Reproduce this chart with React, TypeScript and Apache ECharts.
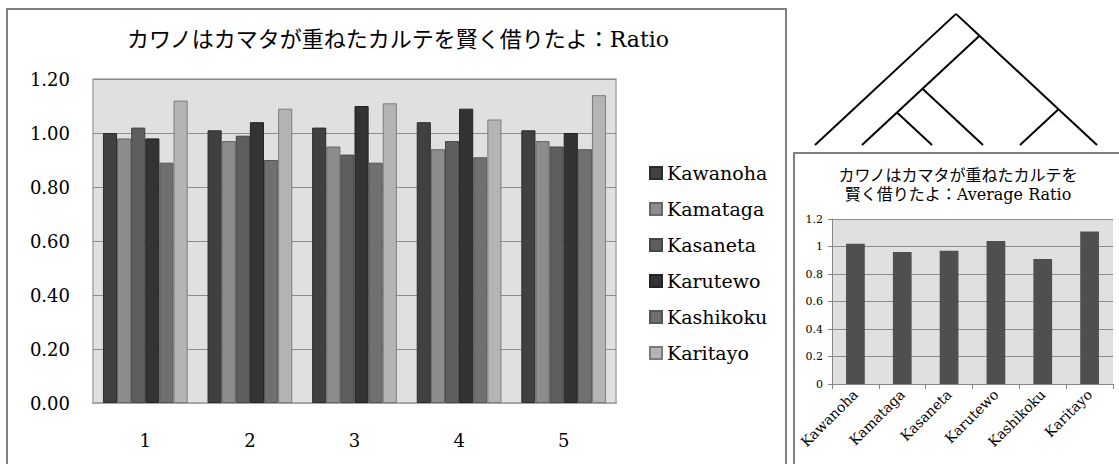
import React, { useEffect, useRef } from "react";
import * as echarts from "echarts";

// Category labels of the main chart (rounds 1..5)
const rounds = ["1", "2", "3", "4", "5"];

// Series names
const seriesNames = ["Kawanoha", "Kamataga", "Kasaneta", "Karutewo", "Kashikoku", "Karitayo"];

// Ratio per round for each series
const kawanoha = [1.0, 1.01, 1.02, 1.04, 1.01];
const kamataga = [0.98, 0.97, 0.95, 0.94, 0.97];
const kasaneta = [1.02, 0.99, 0.92, 0.97, 0.95];
const karutewo = [0.98, 1.04, 1.1, 1.09, 1.0];
const kashikoku = [0.89, 0.9, 0.89, 0.91, 0.94];
const karitayo = [1.12, 1.09, 1.11, 1.05, 1.14];

// Average ratio per series (small chart)
const averageRatio = [1.02, 0.96, 0.97, 1.04, 0.91, 1.11];

// Y axis tick range
const yMin = 0;
const yMax = 1.2;
const yStep = 0.2;

// Cladogram: leaf order and nesting of the six series
const treeTopology: any = [0, [[[1, 2], 3], [4, 5]]];

const SERIF = "DejaVu Serif, Noto Sans CJK JP";

const barFill = ["#404040", "#8c8c8c", "#5e5e5e", "#333333", "#707070", "#b4b4b4"];
const barEdge = ["#2c2c2c", "#666666", "#454545", "#222222", "#555555", "#7c7c7c"];

// Lays out the cladogram with slanted edges and returns line graphics
function buildTree(): any[] {
  const leafX = [815, 862, 932, 983, 1020, 1097];
  const leafY = 145;
  const slope = 0.93;
  const lines: any[] = [];
  type P = { x: number; y: number; lo: number; hi: number };
  const place = (node: any): P => {
    if (typeof node === "number") {
      const x = leafX[node];
      return { x, y: leafY, lo: x, hi: x };
    }
    const kids = node.map(place);
    const lo = Math.min(...kids.map((k: P) => k.lo));
    const hi = Math.max(...kids.map((k: P) => k.hi));
    const p = { x: (lo + hi) / 2, y: leafY - ((hi - lo) / 2) * slope, lo, hi };
    kids.forEach((k: P) => {
      lines.push({
        type: "line",
        shape: { x1: p.x, y1: p.y, x2: k.x, y2: k.y },
        style: { stroke: "#000", lineWidth: 2 },
        silent: true,
      });
    });
    return p;
  };
  place(treeTopology);
  return lines;
}

export default function App() {
  const ref = useRef<HTMLDivElement>(null);

  useEffect(() => {
    if (!ref.current) return;
    const chart = echarts.init(ref.current, undefined, { renderer: "svg" });
    const seriesValues = [kawanoha, kamataga, kasaneta, karutewo, kashikoku, karitayo];

    const option: any = {
      animation: false,
      backgroundColor: "#ffffff",
      textStyle: { fontFamily: SERIF },
      title: [
        {
          text: "カワノはカマタが重ねたカルテを賢く借りたよ：Ratio",
          left: 398,
          top: 28,
          padding: 0,
          textAlign: "center",
          textStyle: { fontFamily: SERIF, fontSize: 22, fontWeight: "normal", color: "#000" },
        },
        {
          text: "カワノはカマタが重ねたカルテを\n賢く借りたよ：Average Ratio",
          left: 958,
          top: 166,
          padding: 0,
          textAlign: "center",
          textStyle: {
            fontFamily: SERIF,
            fontSize: 16,
            lineHeight: 19,
            fontWeight: "normal",
            color: "#000",
          },
        },
      ],
      legend: {
        data: seriesNames,
        orient: "vertical",
        left: 649,
        top: 163,
        padding: 0,
        itemWidth: 12,
        itemHeight: 12,
        itemGap: 16,
        icon: "rect",
        textStyle: { fontFamily: SERIF, fontSize: 19, lineHeight: 20, color: "#000" },
      },
      grid: [
        {
          left: 93,
          top: 79,
          width: 523,
          height: 324,
          show: true,
          backgroundColor: "#e0e0e0",
          borderColor: "#a6a6a6",
          borderWidth: 1.5,
        },
        {
          left: 832,
          top: 219,
          width: 281,
          height: 165,
          show: true,
          backgroundColor: "#e0e0e0",
          borderWidth: 0,
        },
      ],
      xAxis: [
        {
          type: "category",
          gridIndex: 0,
          data: rounds,
          axisLine: { show: true, lineStyle: { color: "#a6a6a6", width: 2 } },
          axisTick: { show: false },
          axisLabel: { fontFamily: SERIF, fontSize: 18, color: "#000", margin: 28 },
        },
        {
          type: "category",
          gridIndex: 1,
          data: seriesNames,
          axisLine: { show: true, lineStyle: { color: "#868686", width: 1 } },
          axisTick: { show: true, length: 5, lineStyle: { color: "#868686" } },
          axisLabel: {
            fontFamily: SERIF,
            fontSize: 14,
            color: "#000",
            rotate: 45,
            interval: 0,
            margin: 8,
          },
        },
      ],
      yAxis: [
        {
          type: "value",
          gridIndex: 0,
          min: yMin,
          max: yMax,
          interval: yStep,
          axisLine: { show: false },
          axisTick: { show: false },
          axisLabel: {
            fontFamily: SERIF,
            fontSize: 18,
            color: "#000",
            margin: 23,
            formatter: (v: number) => v.toFixed(2),
          },
          splitLine: { lineStyle: { color: "#8c8c8c", width: 1 } },
        },
        {
          type: "value",
          gridIndex: 1,
          min: yMin,
          max: yMax,
          interval: yStep,
          axisLine: { show: true, lineStyle: { color: "#868686", width: 1 } },
          axisTick: { show: true, length: 4, lineStyle: { color: "#868686" } },
          axisLabel: { fontFamily: SERIF, fontSize: 11, color: "#000", margin: 9 },
          splitLine: { lineStyle: { color: "#8c8c8c", width: 1 } },
        },
      ],
      series: [
        ...seriesNames.map((name, i) => ({
          name,
          type: "bar",
          xAxisIndex: 0,
          yAxisIndex: 0,
          data: seriesValues[i],
          barGap: "0%",
          barCategoryGap: "19%",
          itemStyle: { color: barFill[i], borderColor: barEdge[i], borderWidth: 1 },
        })),
        {
          name: "Average Ratio",
          type: "bar",
          xAxisIndex: 1,
          yAxisIndex: 1,
          data: averageRatio,
          barCategoryGap: "60%",
          itemStyle: { color: "#4f4f4f" },
        },
      ],
      graphic: [
        {
          type: "rect",
          shape: { x: 7, y: 9, width: 779, height: 470 },
          style: { fill: "none", stroke: "#808080", lineWidth: 2 },
          silent: true,
          z: -1,
        },
        {
          type: "rect",
          shape: { x: 794, y: 153, width: 340, height: 330 },
          style: { fill: "none", stroke: "#808080", lineWidth: 2 },
          silent: true,
          z: -1,
        },
        ...buildTree(),
      ],
    };

    chart.setOption(option);
    return () => chart.dispose();
  }, []);

  return (
    <div
      ref={ref}
      style={{ position: "fixed", left: 0, top: 0, width: 1119, height: 464, background: "#fff" }}
    />
  );
}
